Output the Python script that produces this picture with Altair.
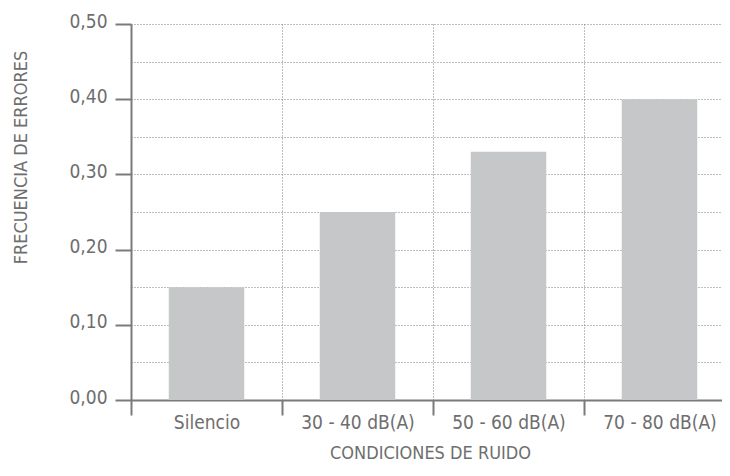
import altair as alt
import pandas as pd

categories = ["Silencio", "30 - 40 dB(A)", "50 - 60 dB(A)", "70 - 80 dB(A)"]
values = [0.15, 0.25, 0.33, 0.40]
y_grid_values = [0.0, 0.05, 0.10, 0.15, 0.20, 0.25, 0.30, 0.35, 0.40, 0.45, 0.50]

df = pd.DataFrame({"cat": categories, "val": values})

FONT = "Liberation Sans Narrow, DejaVu Sans Condensed, Liberation Sans, sans-serif"
TXT = "#6e6e6e"
AX = "#7a7a7a"
GRID = "#7f7f7f"

major_test = "round(datum.value * 100) % 10 == 0"

chart = alt.Chart(df).mark_bar(color="#c6c7c9", width={"band": 0.5}).encode(
    x=alt.X(
        "cat:N",
        sort=categories,
        scale=alt.Scale(range=[0, 604], paddingInner=0, paddingOuter=0),
        axis=alt.Axis(
            title="CONDICIONES DE RUIDO",
            tickBand="extent",
            labelAngle=0,
            labelFont=FONT,
            labelFontSize=19,
            labelColor=TXT,
            labelPadding=-2,
            labelBaseline="top",
            titleFont=FONT,
            titleFontSize=18,
            titleFontWeight="normal",
            titleColor=TXT,
            titleBaseline="top",
            titleY=44,
            titleX=299,
            titleAlign="center",
            domainColor=AX,
            domainWidth=2,
            tickColor=AX,
            tickWidth=2,
            tickSize=15,
            grid=True,
            gridColor=GRID,
            gridDash=[1, 2],
            gridWidth=1,
        ),
    ),
    y=alt.Y(
        "val:Q",
        scale=alt.Scale(domain=[0, 0.5], nice=False, zero=True),
        axis=alt.Axis(
            title="FRECUENCIA DE ERRORES",
            values=y_grid_values,
            labelExpr=major_test + " ? replace(format(datum.value, '.2f'), '.', ',') : ''",
            labelFont=FONT,
            labelFontSize=19,
            labelColor=TXT,
            labelPadding=8,
            labelBaseline="alphabetic",
            labelOffset=3,
            titleFont=FONT,
            titleFontSize=18,
            titleFontWeight="normal",
            titleColor=TXT,
            titleX=-101,
            titleY=133,
            titleAngle=-90,
            titleAlign="center",
            titleBaseline="bottom",
            domainColor=AX,
            domainWidth=2,
            tickColor={"condition": {"test": major_test, "value": AX}, "value": "transparent"},
            tickWidth=2,
            tickSize=16,
            grid=True,
            gridColor=GRID,
            gridDash=[1, 2],
            gridWidth=1,
        ),
    ),
).properties(
    width=591,
    height=376,
    autosize=alt.AutoSizeParams(type="none"),
    padding={"left": 123, "top": 16, "right": 0, "bottom": 64},
).configure_view(stroke=None)

chart.save("out.html", embed_options={"renderer": "svg", "actions": False})
